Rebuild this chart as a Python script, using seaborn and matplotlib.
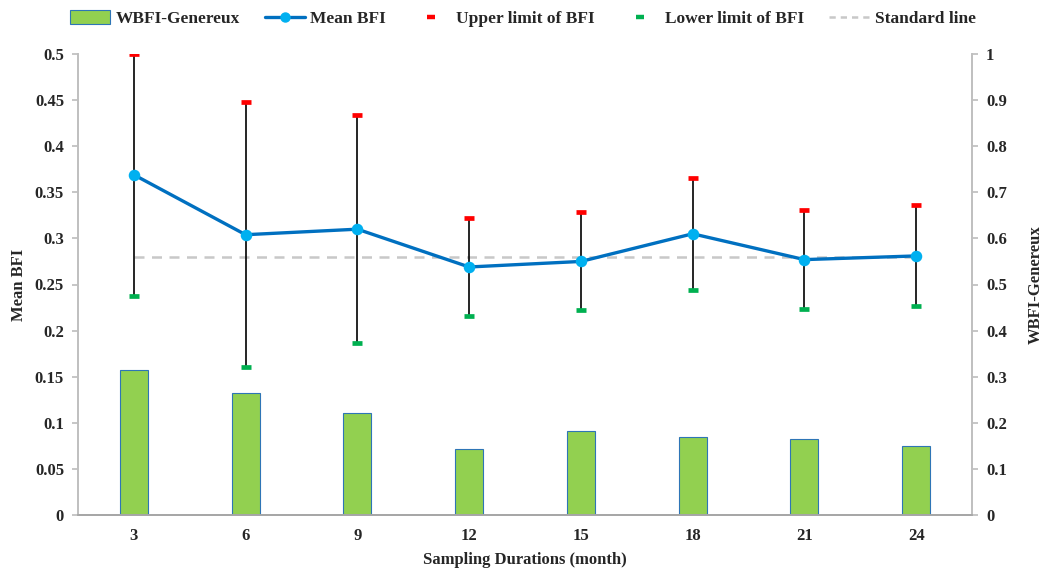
import numpy as np
import pandas as pd
import seaborn as sns
import matplotlib.pyplot as plt
from matplotlib.patches import Patch
from matplotlib.lines import Line2D
from matplotlib.ticker import FuncFormatter

sns.set_theme(style="white")
plt.rcParams["font.family"] = ["Liberation Serif", "DejaVu Serif"]
plt.rcParams["font.weight"] = "bold"
plt.rcParams["axes.labelweight"] = "bold"

months = ["3", "6", "9", "12", "15", "18", "21", "24"]
mean_bfi = [0.369, 0.304, 0.310, 0.269, 0.275, 0.305, 0.277, 0.281]
upper_bfi = [0.500, 0.448, 0.434, 0.322, 0.329, 0.366, 0.331, 0.336]
lower_bfi = [0.238, 0.161, 0.187, 0.216, 0.222, 0.244, 0.223, 0.227]
wbfi_genereux = [0.314, 0.265, 0.221, 0.143, 0.182, 0.169, 0.164, 0.149]
standard_bfi = 0.28

df = pd.DataFrame({"month": months, "mean": mean_bfi, "upper": upper_bfi,
                   "lower": lower_bfi, "wbfi": wbfi_genereux})
pos = np.arange(len(months))

fig = plt.figure(figsize=(10.43, 5.69), dpi=100)
ax = fig.add_axes([78/1043, 54/569, 894/1043, 461/569])
ax2 = ax.twinx()

# bars on right axis
sns.barplot(data=df, x="month", y="wbfi", ax=ax2, color="#92D050",
            edgecolor="#2E75B6", linewidth=0.8, width=0.25, saturation=1)

# mean line on left axis
sns.pointplot(data=df, x="month", y="mean", ax=ax, color="#0070C0",
              markers="o", markersize=6.5, linewidth=2.4)
for ln in ax.lines:
    ln.set_markerfacecolor("#00B0F0")
    ln.set_markeredgecolor("#00B0F0")
    ln.set_zorder(4)

ax.plot(pos, [standard_bfi] * len(months), color="#C8C8C8", lw=1.8,
        ls=(0, (4, 3)), zorder=3)
ax.vlines(pos, df["lower"], df["upper"], color="black", lw=1.2, zorder=3.5)
ax.plot(pos, df["upper"], ls="none", marker="_", ms=7, mew=3.4,
        color="#FF0000", zorder=5)
ax.plot(pos, df["lower"], ls="none", marker="_", ms=7, mew=3.4,
        color="#00B050", zorder=5)

ax.set_zorder(ax2.get_zorder() + 1)
ax.patch.set_visible(False)

ax.set_xlim(-0.5, len(months) - 0.5)
ax.set_ylim(0, 0.5)
ax2.set_ylim(0, 1)
ax.set_yticks(np.arange(0, 0.501, 0.05))
ax2.set_yticks(np.arange(0, 1.001, 0.1))
fmt = FuncFormatter(lambda v, p: f"{v:g}")
ax.yaxis.set_major_formatter(fmt)
ax2.yaxis.set_major_formatter(fmt)

ax.set_xticks(pos)
ax.set_xticklabels(months)
ax.set_xticks(np.arange(-0.5, len(months), 1), minor=True)
ax.tick_params(axis="x", which="major", length=0, pad=9, labelsize=12)
ax.tick_params(axis="x", which="minor", length=5, color="#A6A6A6", width=0.8)
ax.tick_params(axis="y", left=True, length=4, color="#BFBFBF", pad=6,
               labelsize=12)
ax2.tick_params(axis="y", right=True, length=4, color="#BFBFBF", pad=6,
                labelsize=12)
ax2.set_xlabel("")

for a in (ax, ax2):
    a.spines["top"].set_visible(False)
    a.spines["left"].set_color("#BFBFBF")
    a.spines["right"].set_color("#BFBFBF")
    a.spines["bottom"].set_color("#A6A6A6")
    a.grid(False)

ax.set_xlabel("Sampling Durations (month)", fontsize=12, labelpad=6)
ax.set_ylabel("Mean BFI", fontsize=12, labelpad=6)
ax2.set_ylabel("WBFI-Genereux", fontsize=12, labelpad=15)

handles = [
    Patch(facecolor="#92D050", edgecolor="#2E75B6", linewidth=0.8),
    Line2D([], [], color="#0070C0", lw=2.4, marker="o", ms=6.5,
           mfc="#00B0F0", mec="#00B0F0"),
    Line2D([], [], ls="none", marker="_", ms=6, mew=3.2, color="#FF0000"),
    Line2D([], [], ls="none", marker="_", ms=6, mew=3.2, color="#00B050"),
    Line2D([], [], color="#C8C8C8", lw=1.8, ls=(0, (2.5, 2))),
]
labels = ["WBFI-Genereux", "Mean BFI", "Upper limit of BFI",
          "Lower limit of BFI", "Standard line"]
fig.legend(handles, labels, loc="center", bbox_to_anchor=(523/1043, 0.967),
           ncol=5, frameon=False, fontsize=12.5, handlelength=2.3,
           handletextpad=0.3, columnspacing=1.45, handleheight=0.8)

fig.savefig("out.png", dpi=100)
